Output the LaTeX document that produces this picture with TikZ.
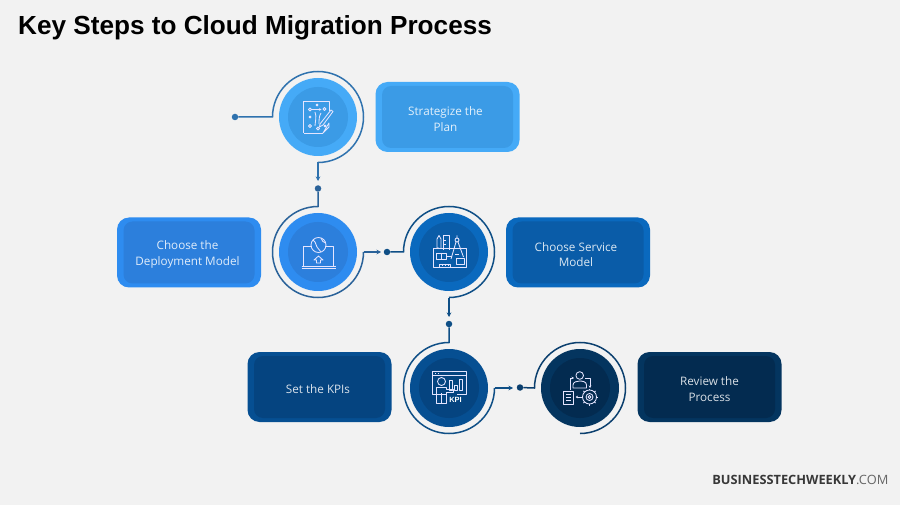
\documentclass[tikz,border=0pt]{standalone}
\usepackage{fontspec}
\setmainfont{Liberation Sans}
\newfontfamily\boxfont{Open Sans}
\usetikzlibrary{arrows.meta}
\definecolor{pagebg}{HTML}{F2F2F2}
\definecolor{skyA}{HTML}{45AAF7}
\definecolor{skyB}{HTML}{3B9BE6}
\definecolor{blueA}{HTML}{2E8CF0}
\definecolor{blueB}{HTML}{2C7FDC}
\definecolor{midA}{HTML}{0A69BE}
\definecolor{midB}{HTML}{0A5CA8}
\definecolor{navyA}{HTML}{064F92}
\definecolor{navyB}{HTML}{054480}
\definecolor{deepA}{HTML}{04355F}
\definecolor{deepB}{HTML}{032B50}
\definecolor{lineA}{HTML}{2F72AE}
\definecolor{lineB}{HTML}{2A6299}
\definecolor{lineC}{HTML}{0F4F86}
\definecolor{lineD}{HTML}{0B3F6E}
\tikzset{
  disc/.style={circle,minimum size=78pt,inner sep=0pt,fill=#1},
  core/.style={circle,minimum size=60pt,inner sep=0pt,fill=#1},
  plate/.style={rounded corners=12pt,minimum width=144pt,minimum height=70pt,fill=#1},
  panel/.style={rounded corners=9pt,minimum width=131pt,minimum height=62pt,inner sep=0pt,fill=#1},
  words/.style={inner sep=0pt,align=center,text=white!85!#1,font=\boxfont\fontsize{11.7}{15.5}\selectfont},
  pin/.style={circle,minimum size=6.5pt,inner sep=0pt,fill=#1},
  ring/.style={draw=#1,line width=1.5pt},
  flow/.style={draw=#1,line width=1.5pt,-{Stealth[length=4.5pt,width=4.5pt]}},
  glyph/.style={yscale=-1,draw=white!90!blue,line width=0.85pt,line join=round}
}
\begin{document}
\begin{tikzpicture}[x=1pt,y=1pt]
  \fill[pagebg] (0,0) rectangle (900,-505);
  \useasboundingbox (0,0) rectangle (900,-505);

  \node[anchor=west,inner sep=0pt,font=\bfseries\fontsize{26.15}{26}\selectfont] (title) at (18,-27.5)
    {Key Steps to Cloud Migration Process};

  % discs
  \node[disc=skyA] (stepA) at (318,-117) {};
  \node[core=skyB] (coreA) at (318,-117) {};
  \node[disc=blueA] (stepB) at (318,-252) {};
  \node[core=blueB] (coreB) at (318,-252) {};
  \node[disc=midA] (stepC) at (449,-252) {};
  \node[core=midB] (coreC) at (449,-252) {};
  \node[disc=navyA] (stepD) at (449,-388) {};
  \node[core=navyB] (coreD) at (449,-388) {};
  \node[disc=deepA] (stepE) at (580,-388) {};
  \node[core=deepB] (coreE) at (580,-388) {};

  % boxes
  \node[plate=skyA] (plateA) at (447.5,-117) {};
  \node[panel=skyB] (panelA) at (447.5,-117) {};
  \node[words=skyB] (textA) at (445.5,-119) {Strategize the\\Plan};
  \node[plate=blueA] (plateB) at (189,-252.5) {};
  \node[panel=blueB] (panelB) at (189,-252.5) {};
  \node[words=blueB] (textB) at (187.5,-254.5) {Choose the\\Deployment Model};
  \node[plate=midA] (plateC) at (578,-252.5) {};
  \node[panel=midB] (panelC) at (578,-252.5) {};
  \node[words=midB] (textC) at (576,-254.5) {Choose Service\\Model};
  \node[plate=navyA] (plateD) at (319.5,-387) {};
  \node[panel=navyB] (panelD) at (319.5,-387) {};
  \node[words=navyB] (textD) at (318,-389) {Set the KPIs};
  \node[plate=deepA] (plateE) at (709.5,-387) {};
  \node[panel=deepB] (panelE) at (709.5,-387) {};
  \node[words=deepB] (textE) at (709.5,-389) {Review the\\Process};

  % pins and stems
  \node[pin=lineA] (pinA) at (235,-117) {};
  \node[pin=lineB] (pinB) at (318,-188.5) {};
  \node[pin=lineC] (pinC) at (387,-252) {};
  \node[pin=lineC] (pinD) at (449,-324) {};
  \node[pin=lineD] (pinE) at (520,-387.5) {};
  \coordinate (inA) at (272.5,-117);
  \coordinate (outA) at (318,-162.5);
  \coordinate (tipA) at (318,-181);
  \coordinate (inB) at (318,-206.5);
  \coordinate (outB) at (363.5,-252);
  \coordinate (tipB) at (381,-252);
  \coordinate (inC) at (403.5,-252);
  \coordinate (outC) at (449,-297.5);
  \coordinate (tipC) at (449,-317);
  \coordinate (inD) at (449,-342.5);
  \coordinate (outD) at (494.5,-388);
  \coordinate (tipD) at (513,-388);
  \coordinate (inE) at (534.5,-388);

  \draw[ring=lineA] (pinA) -- (inA) arc[start angle=180,end angle=-90,radius=45.5pt];
  \draw[flow=lineA] (outA) -- (tipA);
  \draw[ring=lineB] (pinB) -- (inB) arc[start angle=90,end angle=360,radius=45.5pt];
  \draw[flow=lineB] (outB) -- (tipB);
  \draw[ring=lineC] (pinC) -- (inC) arc[start angle=180,end angle=-90,radius=45.5pt];
  \draw[flow=lineC] (outC) -- (tipC);
  \draw[ring=lineC] (pinD) -- (inD) arc[start angle=90,end angle=360,radius=45.5pt];
  \draw[flow=lineC] (outD) -- (tipD);
  \draw[ring=lineD] (pinE) -- (inE) arc[start angle=180,end angle=-90,radius=45.5pt];

  % plan icon
  \begin{scope}[shift={(coreA.center)},glyph]
    \draw (-14.5,16) -- (-14.5,-16) -- (11,-16) -- (11,-6);
    \draw (11,6) -- (11,10) -- (5,16) -- cycle;
    \draw (5,16) -- (-14.5,16);
    \draw (-8,-7.5) circle (1.5) (6.5,-8) circle (1.5) (-8,9) circle (1.5) (0,11.5) circle (1.5);
    \draw[-{Stealth[length=2.5pt,width=2.5pt]}] (-6,-7.5) -- (3.5,-7.5);
    \draw (-2,-13) -- (0,-11) (-2,-11) -- (0,-13) (-9,-1) -- (-7,1) (-9,1) -- (-7,-1);
    \draw (6,8) -- (8,10) (6,10) -- (8,8);
    \draw (-3,-5) .. controls (-1,0) and (-3,5) .. (-3,9);
    \draw (3,-4) .. controls (1,-1) and (1,3) .. (1,7);
    \draw (2,7) -- (13,-7) -- (15,-5.5) -- (5,8) -- (1.5,10) -- cycle;
  \end{scope}

  % laptop icon
  \begin{scope}[shift={(coreB.center)},glyph]
    \draw (-6,-6) -- (-14.5,-6) -- (-14.5,14) -- (15,14) -- (15,-6) -- (7,-6);
    \draw (-16.5,16) -- (17.5,16);
    \draw (-16.5,14) -- (17.5,14);
    \draw (0.5,-7) circle (7.5);
    \draw (-5,-12) .. controls (-1,-9) and (-3,-7) .. (-1,-5) .. controls (1,-4) and (1,-1) .. (3,0);
    \draw (3,-14) .. controls (3,-11) and (6,-10) .. (7.5,-9);
    \draw (0.5,4) -- (5,8) -- (2.5,8) -- (2.5,11) -- (-1.5,11) -- (-1.5,8) -- (-4,8) -- cycle;
  \end{scope}

  % tools icon
  \begin{scope}[shift={(coreC.center)},glyph]
    \draw (-16,-4) rectangle (17,15);
    \draw (-10,-4) -- (-12,-4) -- (-12,-13) -- (-10,-16.5) -- (-8,-13) -- (-8,-4);
    \draw (-6,-2) -- (-6,-16.5) -- (0,-16.5) -- (0,-2);
    \draw (-6,-12) -- (-3,-12) (-6,-8) -- (-3,-8);
    \draw (8,-12) circle (2) (8,-16.5) -- (8,-14);
    \draw (7,-10) -- (2,7) (9,-10) -- (14.5,5);
    \draw (6,2) -- (10,2);
    \draw (7,6) rectangle (15,12.5);
    \draw (-13,1) -- (-3,1) -- (-3,7) -- (-13,7) -- cycle;
    \draw (-8,1) -- (-8,7) (-3,4) -- (3,4);
    \draw (-10,12) rectangle (1,15.5);
    \draw (-7,12) -- (-7,14) (-4,12) -- (-4,14) (-1,12) -- (-1,14);
  \end{scope}

  % kpi icon
  \begin{scope}[shift={(coreD.center)},glyph]
    \draw (-2,6) -- (-17,6) -- (-17,-17) -- (17,-17) -- (17,6) -- (8,6);
    \draw (-17,-12.5) -- (17,-12.5);
    \draw (-14,-15) -- (-13,-15) (-11,-15) -- (-10,-15);
    \draw (-7.5,-6.5) circle (4);
    \draw (-12.5,15.5) -- (-12.5,-0.5) -- (-2.5,-0.5) -- (-2.5,1) -- (4,1) -- (4,4) -- (-2.5,4) -- (-2.5,15.5) -- cycle;
    \draw (-7.5,5) -- (-7.5,15.5);
    \draw (0,-8) rectangle (3,2) (5,-3) rectangle (8,2) (10,-9) rectangle (13,2);
    \node[inner sep=0pt,text=white,font=\bfseries\fontsize{7.5}{7.5}\selectfont] (kpiword) at (6.5,11.5) {KPI};
  \end{scope}

  % review icon
  \begin{scope}[shift={(coreE.center)},glyph]
    \draw (-0.3,-12.5) circle (3.8);
    \draw (-7,0) -- (-7,-3) .. controls (-7,-6) and (-3,-7) .. (-0.3,-7) .. controls (3,-7) and (6.5,-6) .. (6.5,-3) -- (6.5,0) -- cycle;
    \draw (-16.5,3) rectangle (-6.5,16.5);
    \draw (-14,6.5) -- (-9,6.5) (-14,9.5) -- (-9,9.5) (-14,12.5) -- (-9,12.5);
    \draw (9.5,9) circle (7) (9.5,9) circle (3.5) (9.5,9) circle (1.5);
    \foreach \a in {0,45,...,315}
      \draw (9.5,9) ++(\a:7) -- ++(\a:1.5);
    \draw[-{Stealth[length=2.5pt,width=2.5pt]}] (1,9) -- (-4.5,9);
    \draw[-{Stealth[length=2.5pt,width=2.5pt]}] (-10,1.5) -- (-10,-10) -- (-6,-10);
    \draw[-{Stealth[length=2.5pt,width=2.5pt]}] (5,-10) -- (10,-10) -- (10,0);
  \end{scope}

  \node[anchor=east,inner sep=0pt,text=black!78,font=\boxfont\fontsize{12.8}{13}\selectfont] (brand) at (888.5,-479.5)
    {\textbf{BUSINESSTECHWEEKLY}\textcolor{black!60}{.COM}};
\end{tikzpicture}
\end{document}
